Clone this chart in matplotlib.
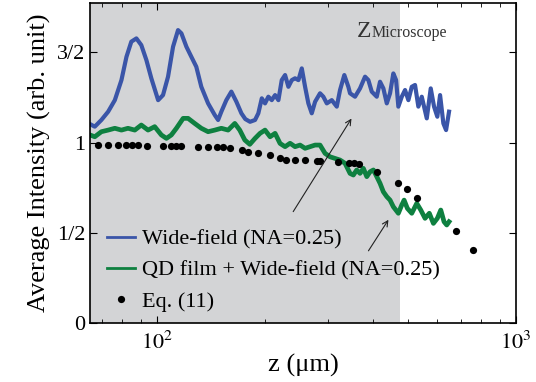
import matplotlib
matplotlib.use("Agg")
import matplotlib.pyplot as plt

plt.rcParams['font.family'] = ['Liberation Serif', 'DejaVu Serif']
plt.rcParams['mathtext.fontset'] = 'stix'

# wide-field (NA=0.25)
z_wide = [65.0, 67.0, 69.9, 73.0, 76.2, 79.5, 82.1, 84.7, 87.5, 90.3, 93.3, 96.3, 100.6, 103.8,
          107.2, 110.7, 114.3, 116.8, 120.6, 124.5, 128.5, 132.7, 138.6, 144.7, 147.8, 150.9,
          155.8, 160.9, 166.2, 171.6, 176.0, 181.4, 187.3, 191.3, 195.6, 199.7, 204.0, 208.5,
          213.0, 217.6, 222.3, 227.1, 232.0, 237.1, 242.1, 247.4, 252.8, 258.2, 263.7, 269.5,
          275.3, 284.2, 290.3, 296.8, 306.4, 316.4, 323.1, 332.1, 340.8, 344.5, 355.7, 367.3,
          379.3, 387.5, 396.0, 408.9, 417.6, 426.6, 436.1, 445.3, 454.8, 462.9, 469.7, 480.1,
          490.3, 500.9, 511.9, 522.7, 534.0, 545.8, 563.6, 578.1, 590.5, 603.1, 613.8, 626.9,
          637.9, 650.1]
i_wide = [1.102, 1.088, 1.125, 1.171, 1.235, 1.346, 1.475, 1.559, 1.577, 1.540, 1.457, 1.356, 1.235, 1.263,
          1.365, 1.531, 1.623, 1.605, 1.531, 1.475, 1.420, 1.309, 1.217, 1.152, 1.125, 1.171,
          1.235, 1.282, 1.226, 1.162, 1.130, 1.115, 1.125, 1.162, 1.245, 1.217, 1.254, 1.235,
          1.263, 1.235, 1.346, 1.374, 1.309, 1.346, 1.356, 1.346, 1.411, 1.309, 1.217, 1.162,
          1.226, 1.273, 1.254, 1.217, 1.235, 1.199, 1.291, 1.374, 1.309, 1.273, 1.254, 1.300,
          1.365, 1.346, 1.282, 1.254, 1.337, 1.300, 1.217, 1.273, 1.383, 1.346, 1.199, 1.254,
          1.291, 1.235, 1.309, 1.319, 1.199, 1.254, 1.134, 1.300, 1.199, 1.143, 1.263, 1.106,
          1.069, 1.171]

# QD film + wide-field
z_qd = [65.0, 67.0, 69.9, 73.0, 76.2, 79.5, 82.9, 86.6, 90.3, 94.3, 98.4, 102.7, 106.1, 109.5,
        113.1, 118.1, 121.9, 127.2, 132.7, 138.6, 144.7, 150.9, 157.6, 164.5, 169.8, 175.4,
        181.1, 187.3, 193.4, 199.7, 206.3, 213.0, 219.9, 227.1, 234.5, 242.1, 250.0, 258.2,
        266.6, 275.3, 284.2, 293.5, 303.0, 312.9, 323.1, 333.6, 344.5, 351.9, 359.6, 367.3,
        375.2, 383.6, 391.7, 400.2, 408.9, 417.6, 426.6, 436.1, 445.3, 454.8, 469.7, 480.1,
        487.3, 497.7, 511.9, 528.5, 542.3, 557.4, 572.9, 588.1, 603.1, 616.6, 629.6, 640.6,
        650.1]
i_qd = [1.042, 1.032, 1.060, 1.069, 1.079, 1.069, 1.079, 1.069, 1.097, 1.069, 1.088, 1.042, 1.023, 1.042,
        1.079, 1.134, 1.134, 1.106, 1.079, 1.060, 1.069, 1.079, 1.069, 1.106, 1.069, 1.014,
        0.990, 1.023, 1.051, 1.069, 1.032, 1.051, 0.995, 0.977, 0.996, 0.977, 0.986, 0.968,
        0.977, 0.986, 0.986, 0.940, 0.921, 0.912, 0.903, 0.885, 0.829, 0.820, 0.848, 0.829,
        0.857, 0.811, 0.838, 0.848, 0.811, 0.774, 0.727, 0.700, 0.681, 0.644, 0.608, 0.654,
        0.681, 0.635, 0.608, 0.663, 0.626, 0.580, 0.608, 0.552, 0.580, 0.626, 0.561, 0.543,
        0.561]

# Eq. (11)
z_eq = [68.6, 73.1, 78.0, 81.9, 85.0, 88.6, 93.5, 104.1, 109.5, 112.9, 116.8, 130.2, 138.8, 146.6,
        152.9, 159.6, 172.1, 179.5, 191.3, 206.3, 219.9, 227.8, 242.1, 258.2, 278.3, 284.2,
        319.6, 342.3, 353.5, 365.0, 408.3, 469.7, 495.6, 529.6, 678.8, 759.9]
i_eq = [0.985, 0.985, 0.985, 0.985, 0.985, 0.985, 0.983, 0.983, 0.982, 0.982, 0.982, 0.978, 0.976, 0.973,
        0.973, 0.970, 0.960, 0.945, 0.940, 0.933, 0.912, 0.905, 0.903, 0.903, 0.899, 0.899,
        0.892, 0.886, 0.884, 0.881, 0.838, 0.778, 0.741, 0.690, 0.508, 0.406]

z_microscope = 475

fig = plt.figure(figsize=(5.36, 3.82), dpi=100)
ax = fig.add_axes([0.168, 0.1545, 0.795, 0.8375])

ax.axvspan(65, z_microscope, color='#d3d4d6', lw=0, zorder=0)
ax.plot(z_wide, i_wide, color='#3a55a8', lw=3.0, label='Wide-field (NA=0.25)')
ax.plot(z_qd, i_qd, color='#0e8040', lw=3.4, label='QD film + Wide-field (NA=0.25)')
ax.plot(z_eq, i_eq, 'o', color='black', ms=5.2, mec='none', label='Eq. (11)')

ax.annotate('', xy=(351, 1.146), xytext=(237, 0.604),
            arrowprops=dict(arrowstyle='->', lw=0.8, color='#222222'))
ax.annotate('', xy=(445, 0.585), xytext=(384, 0.387),
            arrowprops=dict(arrowstyle='->', lw=0.8, color='#222222'))

ax.text(0.627, 0.895, 'Z', transform=ax.transAxes, fontsize=17, color='#333333')
ax.text(0.660, 0.895, 'Microscope', transform=ax.transAxes, fontsize=11.5, color='#333333')

ax.set_xscale('log')
ax.set_xlim(65, 1000)
ax.set_ylim(0, 1.773)
ax.set_xticks([100, 1000])
ax.set_xticklabels([r'$10^2$', r'$10^3$'])
ax.set_yticks([0, 0.5, 1, 1.5])
ax.set_yticklabels(['0', '1/2', '1', '3/2'])
ax.tick_params(which='both', direction='in', top=True, right=True, labelsize=16)
ax.tick_params(which='major', length=5, width=0.8)
ax.tick_params(which='minor', length=3, width=0.6)
ax.tick_params(axis='x', pad=6)
for s in ax.spines.values():
    s.set_linewidth(1.2)

ax.set_xlabel('z (μm)', fontsize=19, labelpad=0)
ax.set_ylabel('Average Intensity (arb. unit)', fontsize=19, labelpad=4)

leg = ax.legend(loc='lower left', bbox_to_anchor=(0.04, 0.035), frameon=False, fontsize=16,
                handlelength=1.25, handletextpad=0.3, labelspacing=0.48, borderpad=0, borderaxespad=0)
for h in leg.get_lines()[:2]:
    h.set_linewidth(2.0)

fig.savefig('out.png', dpi=100)
